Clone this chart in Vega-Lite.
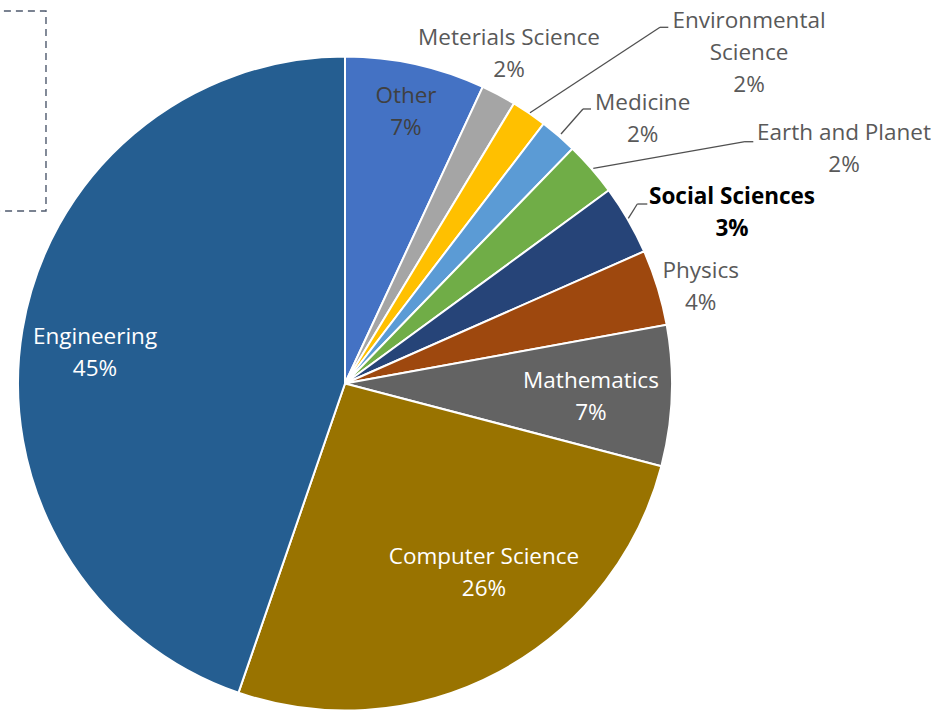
{
  "$schema": "https://vega.github.io/schema/vega-lite/v6.json",
  "width": 931,
  "height": 710,
  "padding": 0,
  "autosize": {"type": "none"},
  "config": {"view": {"stroke": null}, "text": {"font": "Open Sans", "fontSize": 22.5, "lineHeight": 32, "lineBreak": "\n", "dy": -15}},
  "data": {
    "values": [
      {"category": "Other", "value": 6.92, "rank": 1, "label": "Other\n7%"},
      {"category": "Meterials Science", "value": 1.72, "rank": 2, "label": "Meterials Science\n2%"},
      {"category": "Environmental Science", "value": 1.75, "rank": 3, "label": "Environmental\nScience\n2%"},
      {"category": "Medicine", "value": 1.86, "rank": 4, "label": "Medicine\n2%"},
      {"category": "Earth and Planet", "value": 2.69, "rank": 5, "label": "Earth and Planet\n2%"},
      {"category": "Social Sciences", "value": 3.44, "rank": 6, "label": "Social Sciences\n3%"},
      {"category": "Physics", "value": 3.75, "rank": 7, "label": "Physics\n4%"},
      {"category": "Mathematics", "value": 6.94, "rank": 8, "label": "Mathematics\n7%"},
      {"category": "Computer Science", "value": 26.21, "rank": 9, "label": "Computer Science\n26%"},
      {"category": "Engineering", "value": 44.72, "rank": 10, "label": "Engineering\n45%"}
    ]
  },
  "transform": [
    {"stack": "value", "groupby": [], "sort": [{"field": "rank", "order": "ascending"}], "as": ["v0", "v1"]}
  ],
  "encoding": {
    "x": {"datum": 0, "type": "quantitative", "scale": {"domain": [-1.05505, 1.79205], "nice": false, "zero": false}, "axis": null},
    "y": {"datum": 0, "type": "quantitative", "scale": {"domain": [-0.99847, 1.17278], "nice": false, "zero": false}, "axis": null}
  },
  "layer": [
    {
      "data": {"values": [{"box": "frame"}]},
      "transform": [],
      "mark": {"type": "rect", "fillOpacity": 0, "stroke": "#4f5a6e", "strokeWidth": 1.4, "strokeDash": [7, 5]},
      "encoding": {
        "x": {"datum": -1.3, "type": "quantitative"},
        "x2": {"datum": -0.9144},
        "y": {"datum": 1.1391, "type": "quantitative"},
        "y2": {"datum": 0.5275}
      }
    },
    {
      "mark": {"type": "arc", "outerRadius": 327, "stroke": "#ffffff", "strokeWidth": 2},
      "encoding": {
        "theta": {"field": "v0", "type": "quantitative", "scale": {"domain": [0, 100]}},
        "theta2": {"field": "v1"},
        "color": {
          "field": "category", "type": "nominal", "legend": null,
          "scale": {
            "domain": ["Other", "Meterials Science", "Environmental Science", "Medicine", "Earth and Planet", "Social Sciences", "Physics", "Mathematics", "Computer Science", "Engineering"],
            "range": ["#4472C4", "#A5A5A5", "#FFC000", "#5B9BD5", "#70AD47", "#264478", "#9E480E", "#636363", "#997300", "#255E91"]
          }
        }
      }
    },
    {
      "transform": [{"filter": {"field": "category", "equal": "Environmental Science"}}],
      "mark": {"type": "rule", "color": "#505050", "strokeWidth": 1.3},
      "encoding": {"x": {"datum": 0.5657, "type": "quantitative"}, "y": {"datum": 0.8281, "type": "quantitative"}, "x2": {"datum": 0.9633}, "y2": {"datum": 1.0893}}
    },
    {
      "transform": [{"filter": {"field": "category", "equal": "Environmental Science"}}],
      "mark": {"type": "rule", "color": "#505050", "strokeWidth": 1.3},
      "encoding": {"x": {"datum": 0.9633, "type": "quantitative"}, "y": {"datum": 1.0893, "type": "quantitative"}, "x2": {"datum": 0.9887}, "y2": {"datum": 1.0893}}
    },
    {
      "transform": [{"filter": {"field": "category", "equal": "Medicine"}}],
      "mark": {"type": "rule", "color": "#505050", "strokeWidth": 1.3},
      "encoding": {"x": {"datum": 0.6606, "type": "quantitative"}, "y": {"datum": 0.763, "type": "quantitative"}, "x2": {"datum": 0.7278}, "y2": {"datum": 0.8395}}
    },
    {
      "transform": [{"filter": {"field": "category", "equal": "Medicine"}}],
      "mark": {"type": "rule", "color": "#505050", "strokeWidth": 1.3},
      "encoding": {"x": {"datum": 0.7278, "type": "quantitative"}, "y": {"datum": 0.8395, "type": "quantitative"}, "x2": {"datum": 0.7523}, "y2": {"datum": 0.8395}}
    },
    {
      "transform": [{"filter": {"field": "category", "equal": "Earth and Planet"}}],
      "mark": {"type": "rule", "color": "#505050", "strokeWidth": 1.3},
      "encoding": {"x": {"datum": 0.7593, "type": "quantitative"}, "y": {"datum": 0.6581, "type": "quantitative"}, "x2": {"datum": 1.2232}, "y2": {"datum": 0.7394}}
    },
    {
      "transform": [{"filter": {"field": "category", "equal": "Earth and Planet"}}],
      "mark": {"type": "rule", "color": "#505050", "strokeWidth": 1.3},
      "encoding": {"x": {"datum": 1.2232, "type": "quantitative"}, "y": {"datum": 0.7394, "type": "quantitative"}, "x2": {"datum": 1.2486}, "y2": {"datum": 0.7394}}
    },
    {
      "transform": [{"filter": {"field": "category", "equal": "Social Sciences"}}],
      "mark": {"type": "rule", "color": "#505050", "strokeWidth": 1.3},
      "encoding": {"x": {"datum": 0.8664, "type": "quantitative"}, "y": {"datum": 0.5052, "type": "quantitative"}, "x2": {"datum": 0.8939}, "y2": {"datum": 0.5489}}
    },
    {
      "transform": [{"filter": {"field": "category", "equal": "Social Sciences"}}],
      "mark": {"type": "rule", "color": "#505050", "strokeWidth": 1.3},
      "encoding": {"x": {"datum": 0.8939, "type": "quantitative"}, "y": {"datum": 0.5489, "type": "quantitative"}, "x2": {"datum": 0.9245}, "y2": {"datum": 0.5489}}
    },
    {
      "transform": [{"filter": {"field": "category", "equal": "Other"}}],
      "mark": {"type": "text", "radius": 279, "thetaOffset": 0.2203, "color": "#404040"},
      "encoding": {"theta": {"field": "v0", "type": "quantitative", "scale": {"domain": [0, 100]}}, "text": {"field": "label"}}
    },
    {
      "transform": [{"filter": {"field": "category", "equal": "Meterials Science"}}],
      "mark": {"type": "text", "radius": 369, "thetaOffset": 0.0258, "color": "#595959"},
      "encoding": {"theta": {"field": "v0", "type": "quantitative", "scale": {"domain": [0, 100]}}, "text": {"field": "label"}}
    },
    {
      "transform": [{"filter": {"field": "category", "equal": "Environmental Science"}}],
      "mark": {"type": "text", "radius": 522.6, "thetaOffset": 0.3408, "color": "#595959", "dy": -31},
      "encoding": {"theta": {"field": "v0", "type": "quantitative", "scale": {"domain": [0, 100]}}, "text": {"field": "label"}}
    },
    {
      "transform": [{"filter": {"field": "category", "equal": "Medicine"}}],
      "mark": {"type": "text", "radius": 398.9, "thetaOffset": 0.1896, "color": "#595959"},
      "encoding": {"theta": {"field": "v0", "type": "quantitative", "scale": {"domain": [0, 100]}}, "text": {"field": "label"}}
    },
    {
      "transform": [{"filter": {"field": "category", "equal": "Earth and Planet"}}],
      "mark": {"type": "text", "radius": 551.8, "thetaOffset": 0.3601, "color": "#595959"},
      "encoding": {"theta": {"field": "v0", "type": "quantitative", "scale": {"domain": [0, 100]}}, "text": {"field": "label"}}
    },
    {
      "transform": [{"filter": {"field": "category", "equal": "Social Sciences"}}],
      "mark": {"type": "text", "radius": 423.1, "thetaOffset": 0.216, "color": "#000000", "fontWeight": "bold"},
      "encoding": {"theta": {"field": "v0", "type": "quantitative", "scale": {"domain": [0, 100]}}, "text": {"field": "label"}}
    },
    {
      "transform": [{"filter": {"field": "category", "equal": "Physics"}}],
      "mark": {"type": "text", "radius": 368.8, "thetaOffset": 0.1484, "color": "#595959"},
      "encoding": {"theta": {"field": "v0", "type": "quantitative", "scale": {"domain": [0, 100]}}, "text": {"field": "label"}}
    },
    {
      "transform": [{"filter": {"field": "category", "equal": "Mathematics"}}],
      "mark": {"type": "text", "radius": 246.3, "thetaOffset": 0.2311, "color": "#ffffff"},
      "encoding": {"theta": {"field": "v0", "type": "quantitative", "scale": {"domain": [0, 100]}}, "text": {"field": "label"}}
    },
    {
      "transform": [{"filter": {"field": "category", "equal": "Computer Science"}}],
      "mark": {"type": "text", "radius": 234.2, "thetaOffset": 0.6798, "color": "#ffffff"},
      "encoding": {"theta": {"field": "v0", "type": "quantitative", "scale": {"domain": [0, 100]}}, "text": {"field": "label"}}
    },
    {
      "transform": [{"filter": {"field": "category", "equal": "Engineering"}}],
      "mark": {"type": "text", "radius": 252, "thetaOffset": 1.3663, "color": "#ffffff"},
      "encoding": {"theta": {"field": "v0", "type": "quantitative", "scale": {"domain": [0, 100]}}, "text": {"field": "label"}}
    }
  ]
}
